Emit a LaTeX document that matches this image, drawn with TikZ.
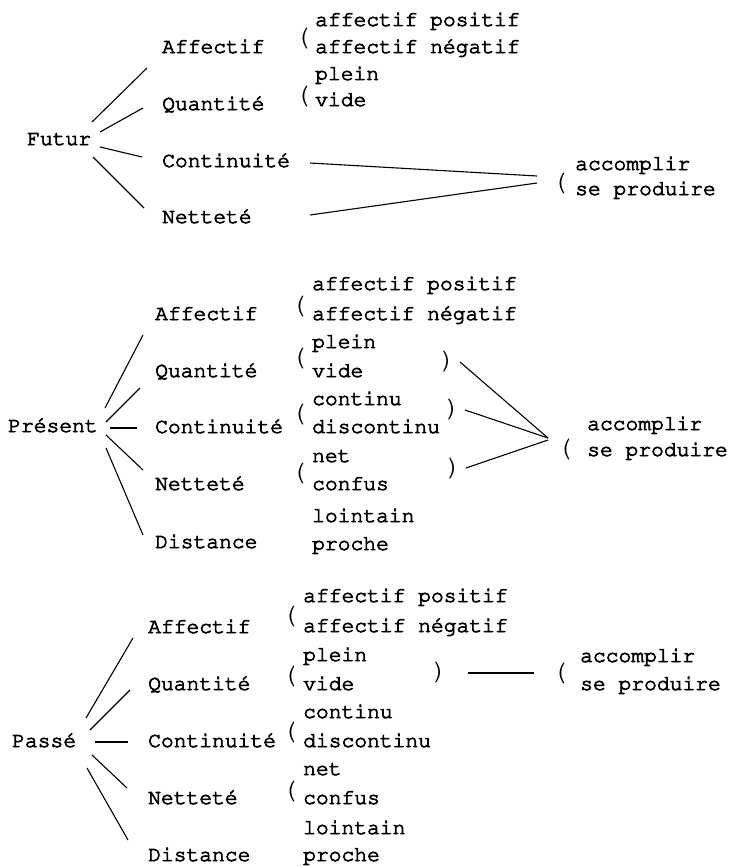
\documentclass[tikz,border=0pt]{standalone}
\usepackage[T1]{fontenc}
\usepackage{courier}
\newcommand\fatter[1]{\special{pdf:literal direct q 2 Tr 0.75 w}#1\special{pdf:literal direct Q}}
\begin{document}
\begin{tikzpicture}[x=1pt,y=-1pt,
  lab/.style={font=\fontsize{21.3}{25}\selectfont\ttfamily, inner sep=0pt, anchor=base west, execute at begin node=\fatterA, execute at end node=\fatterB},
  par/.style={font=\fontsize{29}{32}\selectfont\ttfamily, inner sep=0pt, anchor=base west},
  ln/.style={line width=1.1pt}]
\def\fatterA{\special{pdf:literal direct q 2 Tr 0.75 w}}
\def\fatterB{\special{pdf:literal direct Q}}
\useasboundingbox (0,0) rectangle (734,867);
% ---------------- Futur ----------------
\node[lab] (futur) at (27,145) {Futur};
\node[lab] (fa) at (162,53) {Affectif};
\node[lab] (fq) at (162,110) {Quantité};
\node[lab] (fc) at (162,167) {Continuité};
\node[lab] (fn) at (162,223) {Netteté};
\node[par] (fpa) at (294,46) {(};
\node[lab] (fa1) at (315,26) {affectif positif};
\node[lab] (fa2) at (315,53) {affectif négatif};
\node[par] (fpq) at (294,103) {(};
\node[lab] (fq1) at (315,80) {plein};
\node[lab] (fq2) at (315,106) {vide};
\node[par] (fpr) at (551,190) {(};
\node[lab] (fr1) at (575,170) {accomplir};
\node[lab] (fr2) at (575,195) {se produire};
\coordinate (fo1) at (92,122); \coordinate (fe1) at (147,68);
\coordinate (fo2) at (100,132); \coordinate (fe2) at (143,108);
\coordinate (fo3) at (100,147); \coordinate (fe3) at (142,157);
\coordinate (fo4) at (93,157); \coordinate (fe4) at (144,208);
\draw[ln] (fo1) -- (fe1);
\draw[ln] (fo2) -- (fe2);
\draw[ln] (fo3) -- (fe3);
\draw[ln] (fo4) -- (fe4);
\coordinate (fcs) at (310,163); \coordinate (fns) at (310,215);
\coordinate (fct) at (537,176); \coordinate (fnt) at (537,183);
\draw[ln] (fcs) -- (fct);
\draw[ln] (fns) -- (fnt);
% ---------------- Present ----------------
\node[lab] (pres) at (8,432) {Présent};
\node[lab] (pa) at (155,320) {Affectif};
\node[lab] (pq) at (155,377) {Quantité};
\node[lab] (pc) at (155,433) {Continuité};
\node[lab] (pn) at (155,490) {Netteté};
\node[lab] (pd) at (155,548) {Distance};
\node[par] (ppa) at (290,313) {(};
\node[par] (ppq) at (290,365) {(};
\node[par] (ppc) at (290,421) {(};
\node[par] (ppn) at (290,480) {(};
\node[lab] (pa1) at (312,290) {affectif positif};
\node[lab] (pa2) at (312,320) {affectif négatif};
\node[lab] (pq1) at (312,348) {plein};
\node[lab] (pq2) at (312,377) {vide};
\node[lab] (pc1) at (312,405) {continu};
\node[lab] (pc2) at (312,433) {discontinu};
\node[lab] (pn1) at (312,462) {net};
\node[lab] (pn2) at (312,490) {confus};
\node[lab] (pd1) at (312,522) {lointain};
\node[lab] (pd2) at (312,550) {proche};
\node[par] (pkq) at (439,368) {)};
\node[par] (pkc) at (444,416) {)};
\node[par] (pkn) at (445,475) {)};
\node[par] (ppr) at (556,456) {(};
\node[lab] (pr1) at (587,430) {accomplir};
\node[lab] (pr2) at (587,456) {se produire};
\coordinate (po1) at (105,408); \coordinate (pe1) at (143,335);
\coordinate (po2) at (106,422); \coordinate (pe2) at (140,388);
\coordinate (po3) at (110,428); \coordinate (pe3) at (137,428);
\coordinate (po4) at (106,435); \coordinate (pe4) at (143,470);
\coordinate (po5) at (106,448); \coordinate (pe5) at (143,535);
\draw[ln] (po1) -- (pe1);
\draw[ln] (po2) -- (pe2);
\draw[ln] (po3) -- (pe3);
\draw[ln] (po4) -- (pe4);
\draw[ln] (po5) -- (pe5);
\coordinate (pqs) at (460,362); \coordinate (pcs) at (465,410); \coordinate (pns) at (466,468);
\coordinate (pmeet) at (548,438); \coordinate (pmeet2) at (548,440);
\draw[ln] (pqs) -- (pmeet);
\draw[ln] (pcs) -- (pmeet);
\draw[ln] (pns) -- (pmeet2);
% ---------------- Passe ----------------
\node[lab] (pass) at (12,747) {Passé};
\node[lab] (xa) at (148,633) {Affectif};
\node[lab] (xq) at (148,690) {Quantité};
\node[lab] (xc) at (148,747) {Continuité};
\node[lab] (xn) at (148,804) {Netteté};
\node[lab] (xd) at (148,861) {Distance};
\node[par] (xpa) at (281,623) {(};
\node[par] (xpq) at (281,683) {(};
\node[par] (xpc) at (281,739) {(};
\node[par] (xpn) at (281,798) {(};
\node[lab] (xa1) at (303,602) {affectif positif};
\node[lab] (xa2) at (303,632) {affectif négatif};
\node[lab] (xq1) at (303,661) {plein};
\node[lab] (xq2) at (303,690) {vide};
\node[lab] (xc1) at (303,718) {continu};
\node[lab] (xc2) at (303,747) {discontinu};
\node[lab] (xn1) at (303,775) {net};
\node[lab] (xn2) at (303,804) {confus};
\node[lab] (xd1) at (303,834) {lointain};
\node[lab] (xd2) at (303,861) {proche};
\node[par] (xkq) at (431,679) {)};
\node[par] (xpr) at (551,680) {(};
\node[lab] (xr1) at (580,662) {accomplir};
\node[lab] (xr2) at (580,690) {se produire};
\coordinate (xo1) at (86,718); \coordinate (xe1) at (133,638);
\coordinate (xo2) at (90,730); \coordinate (xe2) at (130,690);
\coordinate (xo3) at (95,742); \coordinate (xe3) at (128,742);
\coordinate (xo4) at (92,755); \coordinate (xe4) at (127,788);
\coordinate (xo5) at (87,768); \coordinate (xe5) at (128,840);
\draw[ln] (xo1) -- (xe1);
\draw[ln] (xo2) -- (xe2);
\draw[ln] (xo3) -- (xe3);
\draw[ln] (xo4) -- (xe4);
\draw[ln] (xo5) -- (xe5);
\coordinate (xls) at (468,673); \coordinate (xlt) at (534,673);
\draw[ln] (xls) -- (xlt);
\end{tikzpicture}
\end{document}
